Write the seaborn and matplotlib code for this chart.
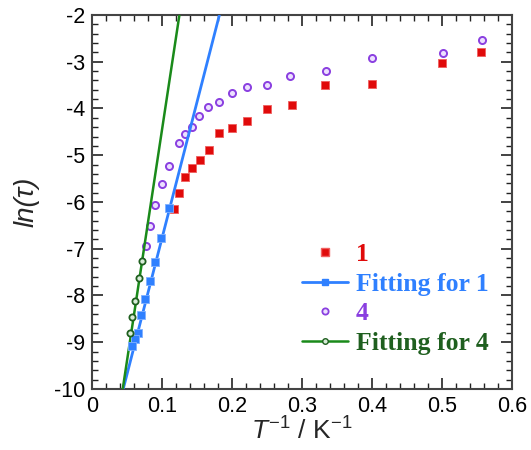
import matplotlib
matplotlib.use("Agg")
import matplotlib.pyplot as plt
import seaborn as sns
import pandas as pd
from matplotlib.lines import Line2D
from matplotlib.ticker import MultipleLocator

# ---- data ----
red_x = [0.556, 0.500, 0.400, 0.333, 0.286, 0.250, 0.222, 0.200, 0.182, 0.167, 0.154, 0.143, 0.133, 0.125, 0.118]
red_y = [-2.80, -3.03, -3.47, -3.50, -3.93, -4.01, -4.26, -4.42, -4.53, -4.89, -5.10, -5.28, -5.47, -5.80, -6.15]

fit1_x = [0.110, 0.099, 0.0904, 0.0828, 0.0762, 0.0704, 0.0661, 0.0620, 0.0576]
fit1_y = [-6.12, -6.76, -7.29, -7.70, -8.07, -8.41, -8.80, -8.94, -9.07]
fit1_line_x = [0.045, 0.1823]
fit1_line_y = [-10.0, -2.0]

purple_x = [0.557, 0.501, 0.400, 0.334, 0.2833, 0.2505, 0.2219, 0.2004, 0.1819, 0.1667,
            0.1538, 0.1428, 0.1338, 0.1247, 0.111, 0.100, 0.091, 0.0838, 0.0771]
purple_y = [-2.54, -2.82, -2.93, -3.19, -3.30, -3.49, -3.55, -3.67, -3.86, -3.96,
            -4.17, -4.40, -4.54, -4.74, -5.23, -5.62, -6.07, -6.52, -6.94]

fit4_x = [0.0714, 0.0671, 0.0619, 0.0580, 0.0552]
fit4_y = [-7.27, -7.63, -8.12, -8.47, -8.80]
fit4_line_x = [0.0443, 0.1252]
fit4_line_y = [-10.0, -2.0]

legend_labels = ["1", "Fitting for 1", "4", "Fitting for 4"]

RED = "#e00a0a"
BLUE = "#2f80ff"
PURPLE = "#8a3fe0"
GREEN = "#1a8a1a"
DKGREEN = "#1f5f1f"

sns.set_theme(style="white")
plt.rcParams["font.family"] = ["Liberation Sans", "DejaVu Sans"]
plt.rcParams["axes.unicode_minus"] = False
plt.rcParams["mathtext.fontset"] = "custom"
plt.rcParams["mathtext.rm"] = "Liberation Sans"
plt.rcParams["mathtext.it"] = "Liberation Sans:italic"

fig = plt.figure(figsize=(5.31, 4.5), dpi=100)
ax = fig.add_axes([0.1727, 0.1356, 0.7915, 0.8311])

sns.scatterplot(data=pd.DataFrame({"x": red_x, "y": red_y}), x="x", y="y", ax=ax,
                marker="s", s=28, color=RED, edgecolor="#f06060", linewidth=0.6, zorder=3)
sns.scatterplot(data=pd.DataFrame({"x": purple_x, "y": purple_y}), x="x", y="y", ax=ax,
                marker="o", s=26, facecolor="#ece0ff", edgecolor=PURPLE, linewidth=1.4, zorder=3)

sns.lineplot(data=pd.DataFrame({"x": fit1_line_x, "y": fit1_line_y}), x="x", y="y", ax=ax,
             color=BLUE, linewidth=2, zorder=4)
sns.lineplot(data=pd.DataFrame({"x": fit4_line_x, "y": fit4_line_y}), x="x", y="y", ax=ax,
             color=GREEN, linewidth=1.8, zorder=4)

sns.scatterplot(data=pd.DataFrame({"x": fit1_x, "y": fit1_y}), x="x", y="y", ax=ax,
                marker="s", s=28, color=BLUE, edgecolor="#80b0ff", linewidth=0.6, zorder=5)
sns.scatterplot(data=pd.DataFrame({"x": fit4_x, "y": fit4_y}), x="x", y="y", ax=ax,
                marker="o", s=20, facecolor="#d8ecd8", edgecolor=DKGREEN, linewidth=1.3, zorder=5)

ax.set_xlim(0, 0.6)
ax.set_ylim(-10, -2)
ax.xaxis.set_major_locator(MultipleLocator(0.1))
ax.xaxis.set_minor_locator(MultipleLocator(0.02))
ax.yaxis.set_major_locator(MultipleLocator(1))
ax.yaxis.set_minor_locator(MultipleLocator(0.2))
ax.set_xticklabels([f"{v:g}" for v in ax.get_xticks()])
ax.set_yticklabels([f"{v:g}" for v in ax.get_yticks()])
ax.tick_params(which="both", direction="in", top=True, right=True, bottom=True, left=True,
               colors="#222222", labelcolor="black", labelsize=15.5)
ax.tick_params(which="major", length=8, width=1.2, pad=5)
ax.tick_params(which="minor", length=4, width=1.0)
for sp in ax.spines.values():
    sp.set_color("#444444")
    sp.set_linewidth(1.5)

ax.set_xlabel(r"$T^{-1}$ / K$^{-1}$", fontsize=19, labelpad=0)
ax.set_ylabel("ln(τ)", fontsize=20, style="italic", labelpad=10)

handles = [
    Line2D([], [], linestyle="none", marker="s", markersize=5.5, color=RED, markeredgecolor="#f06060"),
    Line2D([], [], color=BLUE, linewidth=2, marker="s", markersize=4.5),
    Line2D([], [], linestyle="none", marker="o", markersize=4.5, markerfacecolor="#ece0ff",
           markeredgecolor=PURPLE, markeredgewidth=1.3),
    Line2D([], [], color=GREEN, linewidth=1.8, marker="o", markersize=4, markerfacecolor="#d8ecd8",
           markeredgecolor=DKGREEN),
]
leg = ax.legend(handles, legend_labels, loc="lower right", bbox_to_anchor=(1.0, 0.03),
                frameon=False, handlelength=1.8, handletextpad=0.3, labelspacing=0.25,
                prop={"family": "Liberation Serif", "weight": "bold", "size": 18.5})
for t, c in zip(leg.get_texts(), [RED, BLUE, PURPLE, DKGREEN]):
    t.set_color(c)

fig.savefig("out.png", dpi=100)
